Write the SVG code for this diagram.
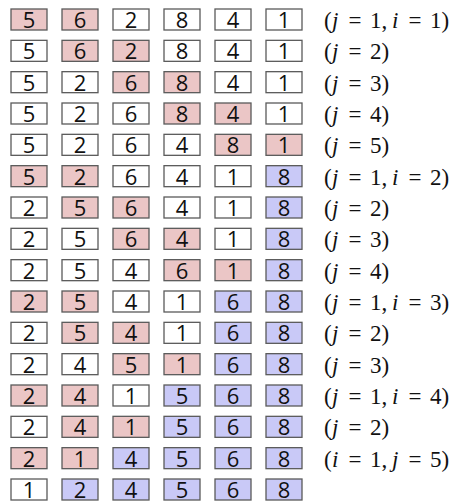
<svg xmlns="http://www.w3.org/2000/svg" width="469" height="503" viewBox="0 0 469 503">
<style>
.b{fill:#ffffff;stroke:#5a5a5a;stroke-width:1.3}
.p{fill:#ebc6c6;stroke:#5a5a5a;stroke-width:1.3}
.u{fill:#c9c9f7;stroke:#5a5a5a;stroke-width:1.3}
.d{font-family:"Open Sans","DejaVu Sans",sans-serif;font-size:22px;fill:#111;text-anchor:middle}
.l{font-family:"Liberation Serif","DejaVu Serif",serif;font-size:23px;fill:#111}
.m{font-style:italic}
</style>
<rect width="469" height="503" fill="#ffffff"/>
<g id="row1" transform="translate(0,9)">
<rect class="p" x="11" y="0" width="36" height="21"/><text class="d" x="29" y="19">5</text>
<rect class="p" x="62" y="0" width="36" height="21"/><text class="d" x="80" y="19">6</text>
<rect class="b" x="113" y="0" width="36" height="21"/><text class="d" x="131" y="19">2</text>
<rect class="b" x="164" y="0" width="36" height="21"/><text class="d" x="182" y="19">8</text>
<rect class="b" x="215" y="0" width="36" height="21"/><text class="d" x="233" y="19">4</text>
<rect class="b" x="266" y="0" width="36" height="21"/><text class="d" x="284" y="19">1</text>
<text class="l" y="19"><tspan x="324">(</tspan><tspan class="m" x="332">j</tspan><tspan x="348.5">=</tspan><tspan x="370">1,</tspan><tspan class="m" x="392">i</tspan><tspan x="408.5">=</tspan><tspan x="430">1)</tspan></text>
</g>
<g id="row2" transform="translate(0,40.33)">
<rect class="b" x="11" y="0" width="36" height="21"/><text class="d" x="29" y="19">5</text>
<rect class="p" x="62" y="0" width="36" height="21"/><text class="d" x="80" y="19">6</text>
<rect class="p" x="113" y="0" width="36" height="21"/><text class="d" x="131" y="19">2</text>
<rect class="b" x="164" y="0" width="36" height="21"/><text class="d" x="182" y="19">8</text>
<rect class="b" x="215" y="0" width="36" height="21"/><text class="d" x="233" y="19">4</text>
<rect class="b" x="266" y="0" width="36" height="21"/><text class="d" x="284" y="19">1</text>
<text class="l" y="19"><tspan x="324">(</tspan><tspan class="m" x="332">j</tspan><tspan x="348.5">=</tspan><tspan x="370">2)</tspan></text>
</g>
<g id="row3" transform="translate(0,71.67)">
<rect class="b" x="11" y="0" width="36" height="21"/><text class="d" x="29" y="19">5</text>
<rect class="b" x="62" y="0" width="36" height="21"/><text class="d" x="80" y="19">2</text>
<rect class="p" x="113" y="0" width="36" height="21"/><text class="d" x="131" y="19">6</text>
<rect class="p" x="164" y="0" width="36" height="21"/><text class="d" x="182" y="19">8</text>
<rect class="b" x="215" y="0" width="36" height="21"/><text class="d" x="233" y="19">4</text>
<rect class="b" x="266" y="0" width="36" height="21"/><text class="d" x="284" y="19">1</text>
<text class="l" y="19"><tspan x="324">(</tspan><tspan class="m" x="332">j</tspan><tspan x="348.5">=</tspan><tspan x="370">3)</tspan></text>
</g>
<g id="row4" transform="translate(0,103)">
<rect class="b" x="11" y="0" width="36" height="21"/><text class="d" x="29" y="19">5</text>
<rect class="b" x="62" y="0" width="36" height="21"/><text class="d" x="80" y="19">2</text>
<rect class="b" x="113" y="0" width="36" height="21"/><text class="d" x="131" y="19">6</text>
<rect class="p" x="164" y="0" width="36" height="21"/><text class="d" x="182" y="19">8</text>
<rect class="p" x="215" y="0" width="36" height="21"/><text class="d" x="233" y="19">4</text>
<rect class="b" x="266" y="0" width="36" height="21"/><text class="d" x="284" y="19">1</text>
<text class="l" y="19"><tspan x="324">(</tspan><tspan class="m" x="332">j</tspan><tspan x="348.5">=</tspan><tspan x="370">4)</tspan></text>
</g>
<g id="row5" transform="translate(0,134.33)">
<rect class="b" x="11" y="0" width="36" height="21"/><text class="d" x="29" y="19">5</text>
<rect class="b" x="62" y="0" width="36" height="21"/><text class="d" x="80" y="19">2</text>
<rect class="b" x="113" y="0" width="36" height="21"/><text class="d" x="131" y="19">6</text>
<rect class="b" x="164" y="0" width="36" height="21"/><text class="d" x="182" y="19">4</text>
<rect class="p" x="215" y="0" width="36" height="21"/><text class="d" x="233" y="19">8</text>
<rect class="p" x="266" y="0" width="36" height="21"/><text class="d" x="284" y="19">1</text>
<text class="l" y="19"><tspan x="324">(</tspan><tspan class="m" x="332">j</tspan><tspan x="348.5">=</tspan><tspan x="370">5)</tspan></text>
</g>
<g id="row6" transform="translate(0,165.67)">
<rect class="p" x="11" y="0" width="36" height="21"/><text class="d" x="29" y="19">5</text>
<rect class="p" x="62" y="0" width="36" height="21"/><text class="d" x="80" y="19">2</text>
<rect class="b" x="113" y="0" width="36" height="21"/><text class="d" x="131" y="19">6</text>
<rect class="b" x="164" y="0" width="36" height="21"/><text class="d" x="182" y="19">4</text>
<rect class="b" x="215" y="0" width="36" height="21"/><text class="d" x="233" y="19">1</text>
<rect class="u" x="266" y="0" width="36" height="21"/><text class="d" x="284" y="19">8</text>
<text class="l" y="19"><tspan x="324">(</tspan><tspan class="m" x="332">j</tspan><tspan x="348.5">=</tspan><tspan x="370">1,</tspan><tspan class="m" x="392">i</tspan><tspan x="408.5">=</tspan><tspan x="430">2)</tspan></text>
</g>
<g id="row7" transform="translate(0,197)">
<rect class="b" x="11" y="0" width="36" height="21"/><text class="d" x="29" y="19">2</text>
<rect class="p" x="62" y="0" width="36" height="21"/><text class="d" x="80" y="19">5</text>
<rect class="p" x="113" y="0" width="36" height="21"/><text class="d" x="131" y="19">6</text>
<rect class="b" x="164" y="0" width="36" height="21"/><text class="d" x="182" y="19">4</text>
<rect class="b" x="215" y="0" width="36" height="21"/><text class="d" x="233" y="19">1</text>
<rect class="u" x="266" y="0" width="36" height="21"/><text class="d" x="284" y="19">8</text>
<text class="l" y="19"><tspan x="324">(</tspan><tspan class="m" x="332">j</tspan><tspan x="348.5">=</tspan><tspan x="370">2)</tspan></text>
</g>
<g id="row8" transform="translate(0,228.33)">
<rect class="b" x="11" y="0" width="36" height="21"/><text class="d" x="29" y="19">2</text>
<rect class="b" x="62" y="0" width="36" height="21"/><text class="d" x="80" y="19">5</text>
<rect class="p" x="113" y="0" width="36" height="21"/><text class="d" x="131" y="19">6</text>
<rect class="p" x="164" y="0" width="36" height="21"/><text class="d" x="182" y="19">4</text>
<rect class="b" x="215" y="0" width="36" height="21"/><text class="d" x="233" y="19">1</text>
<rect class="u" x="266" y="0" width="36" height="21"/><text class="d" x="284" y="19">8</text>
<text class="l" y="19"><tspan x="324">(</tspan><tspan class="m" x="332">j</tspan><tspan x="348.5">=</tspan><tspan x="370">3)</tspan></text>
</g>
<g id="row9" transform="translate(0,259.67)">
<rect class="b" x="11" y="0" width="36" height="21"/><text class="d" x="29" y="19">2</text>
<rect class="b" x="62" y="0" width="36" height="21"/><text class="d" x="80" y="19">5</text>
<rect class="b" x="113" y="0" width="36" height="21"/><text class="d" x="131" y="19">4</text>
<rect class="p" x="164" y="0" width="36" height="21"/><text class="d" x="182" y="19">6</text>
<rect class="p" x="215" y="0" width="36" height="21"/><text class="d" x="233" y="19">1</text>
<rect class="u" x="266" y="0" width="36" height="21"/><text class="d" x="284" y="19">8</text>
<text class="l" y="19"><tspan x="324">(</tspan><tspan class="m" x="332">j</tspan><tspan x="348.5">=</tspan><tspan x="370">4)</tspan></text>
</g>
<g id="row10" transform="translate(0,291)">
<rect class="p" x="11" y="0" width="36" height="21"/><text class="d" x="29" y="19">2</text>
<rect class="p" x="62" y="0" width="36" height="21"/><text class="d" x="80" y="19">5</text>
<rect class="b" x="113" y="0" width="36" height="21"/><text class="d" x="131" y="19">4</text>
<rect class="b" x="164" y="0" width="36" height="21"/><text class="d" x="182" y="19">1</text>
<rect class="u" x="215" y="0" width="36" height="21"/><text class="d" x="233" y="19">6</text>
<rect class="u" x="266" y="0" width="36" height="21"/><text class="d" x="284" y="19">8</text>
<text class="l" y="19"><tspan x="324">(</tspan><tspan class="m" x="332">j</tspan><tspan x="348.5">=</tspan><tspan x="370">1,</tspan><tspan class="m" x="392">i</tspan><tspan x="408.5">=</tspan><tspan x="430">3)</tspan></text>
</g>
<g id="row11" transform="translate(0,322.33)">
<rect class="b" x="11" y="0" width="36" height="21"/><text class="d" x="29" y="19">2</text>
<rect class="p" x="62" y="0" width="36" height="21"/><text class="d" x="80" y="19">5</text>
<rect class="p" x="113" y="0" width="36" height="21"/><text class="d" x="131" y="19">4</text>
<rect class="b" x="164" y="0" width="36" height="21"/><text class="d" x="182" y="19">1</text>
<rect class="u" x="215" y="0" width="36" height="21"/><text class="d" x="233" y="19">6</text>
<rect class="u" x="266" y="0" width="36" height="21"/><text class="d" x="284" y="19">8</text>
<text class="l" y="19"><tspan x="324">(</tspan><tspan class="m" x="332">j</tspan><tspan x="348.5">=</tspan><tspan x="370">2)</tspan></text>
</g>
<g id="row12" transform="translate(0,353.67)">
<rect class="b" x="11" y="0" width="36" height="21"/><text class="d" x="29" y="19">2</text>
<rect class="b" x="62" y="0" width="36" height="21"/><text class="d" x="80" y="19">4</text>
<rect class="p" x="113" y="0" width="36" height="21"/><text class="d" x="131" y="19">5</text>
<rect class="p" x="164" y="0" width="36" height="21"/><text class="d" x="182" y="19">1</text>
<rect class="u" x="215" y="0" width="36" height="21"/><text class="d" x="233" y="19">6</text>
<rect class="u" x="266" y="0" width="36" height="21"/><text class="d" x="284" y="19">8</text>
<text class="l" y="19"><tspan x="324">(</tspan><tspan class="m" x="332">j</tspan><tspan x="348.5">=</tspan><tspan x="370">3)</tspan></text>
</g>
<g id="row13" transform="translate(0,385)">
<rect class="p" x="11" y="0" width="36" height="21"/><text class="d" x="29" y="19">2</text>
<rect class="p" x="62" y="0" width="36" height="21"/><text class="d" x="80" y="19">4</text>
<rect class="b" x="113" y="0" width="36" height="21"/><text class="d" x="131" y="19">1</text>
<rect class="u" x="164" y="0" width="36" height="21"/><text class="d" x="182" y="19">5</text>
<rect class="u" x="215" y="0" width="36" height="21"/><text class="d" x="233" y="19">6</text>
<rect class="u" x="266" y="0" width="36" height="21"/><text class="d" x="284" y="19">8</text>
<text class="l" y="19"><tspan x="324">(</tspan><tspan class="m" x="332">j</tspan><tspan x="348.5">=</tspan><tspan x="370">1,</tspan><tspan class="m" x="392">i</tspan><tspan x="408.5">=</tspan><tspan x="430">4)</tspan></text>
</g>
<g id="row14" transform="translate(0,416.33)">
<rect class="b" x="11" y="0" width="36" height="21"/><text class="d" x="29" y="19">2</text>
<rect class="p" x="62" y="0" width="36" height="21"/><text class="d" x="80" y="19">4</text>
<rect class="p" x="113" y="0" width="36" height="21"/><text class="d" x="131" y="19">1</text>
<rect class="u" x="164" y="0" width="36" height="21"/><text class="d" x="182" y="19">5</text>
<rect class="u" x="215" y="0" width="36" height="21"/><text class="d" x="233" y="19">6</text>
<rect class="u" x="266" y="0" width="36" height="21"/><text class="d" x="284" y="19">8</text>
<text class="l" y="19"><tspan x="324">(</tspan><tspan class="m" x="332">j</tspan><tspan x="348.5">=</tspan><tspan x="370">2)</tspan></text>
</g>
<g id="row15" transform="translate(0,447.67)">
<rect class="p" x="11" y="0" width="36" height="21"/><text class="d" x="29" y="19">2</text>
<rect class="p" x="62" y="0" width="36" height="21"/><text class="d" x="80" y="19">1</text>
<rect class="u" x="113" y="0" width="36" height="21"/><text class="d" x="131" y="19">4</text>
<rect class="u" x="164" y="0" width="36" height="21"/><text class="d" x="182" y="19">5</text>
<rect class="u" x="215" y="0" width="36" height="21"/><text class="d" x="233" y="19">6</text>
<rect class="u" x="266" y="0" width="36" height="21"/><text class="d" x="284" y="19">8</text>
<text class="l" y="19"><tspan x="324">(</tspan><tspan class="m" x="332">i</tspan><tspan x="348.5">=</tspan><tspan x="370">1,</tspan><tspan class="m" x="392">j</tspan><tspan x="408.5">=</tspan><tspan x="430">5)</tspan></text>
</g>
<g id="row16" transform="translate(0,479)">
<rect class="b" x="11" y="0" width="36" height="21"/><text class="d" x="29" y="19">1</text>
<rect class="u" x="62" y="0" width="36" height="21"/><text class="d" x="80" y="19">2</text>
<rect class="u" x="113" y="0" width="36" height="21"/><text class="d" x="131" y="19">4</text>
<rect class="u" x="164" y="0" width="36" height="21"/><text class="d" x="182" y="19">5</text>
<rect class="u" x="215" y="0" width="36" height="21"/><text class="d" x="233" y="19">6</text>
<rect class="u" x="266" y="0" width="36" height="21"/><text class="d" x="284" y="19">8</text>
</g>
</svg>
